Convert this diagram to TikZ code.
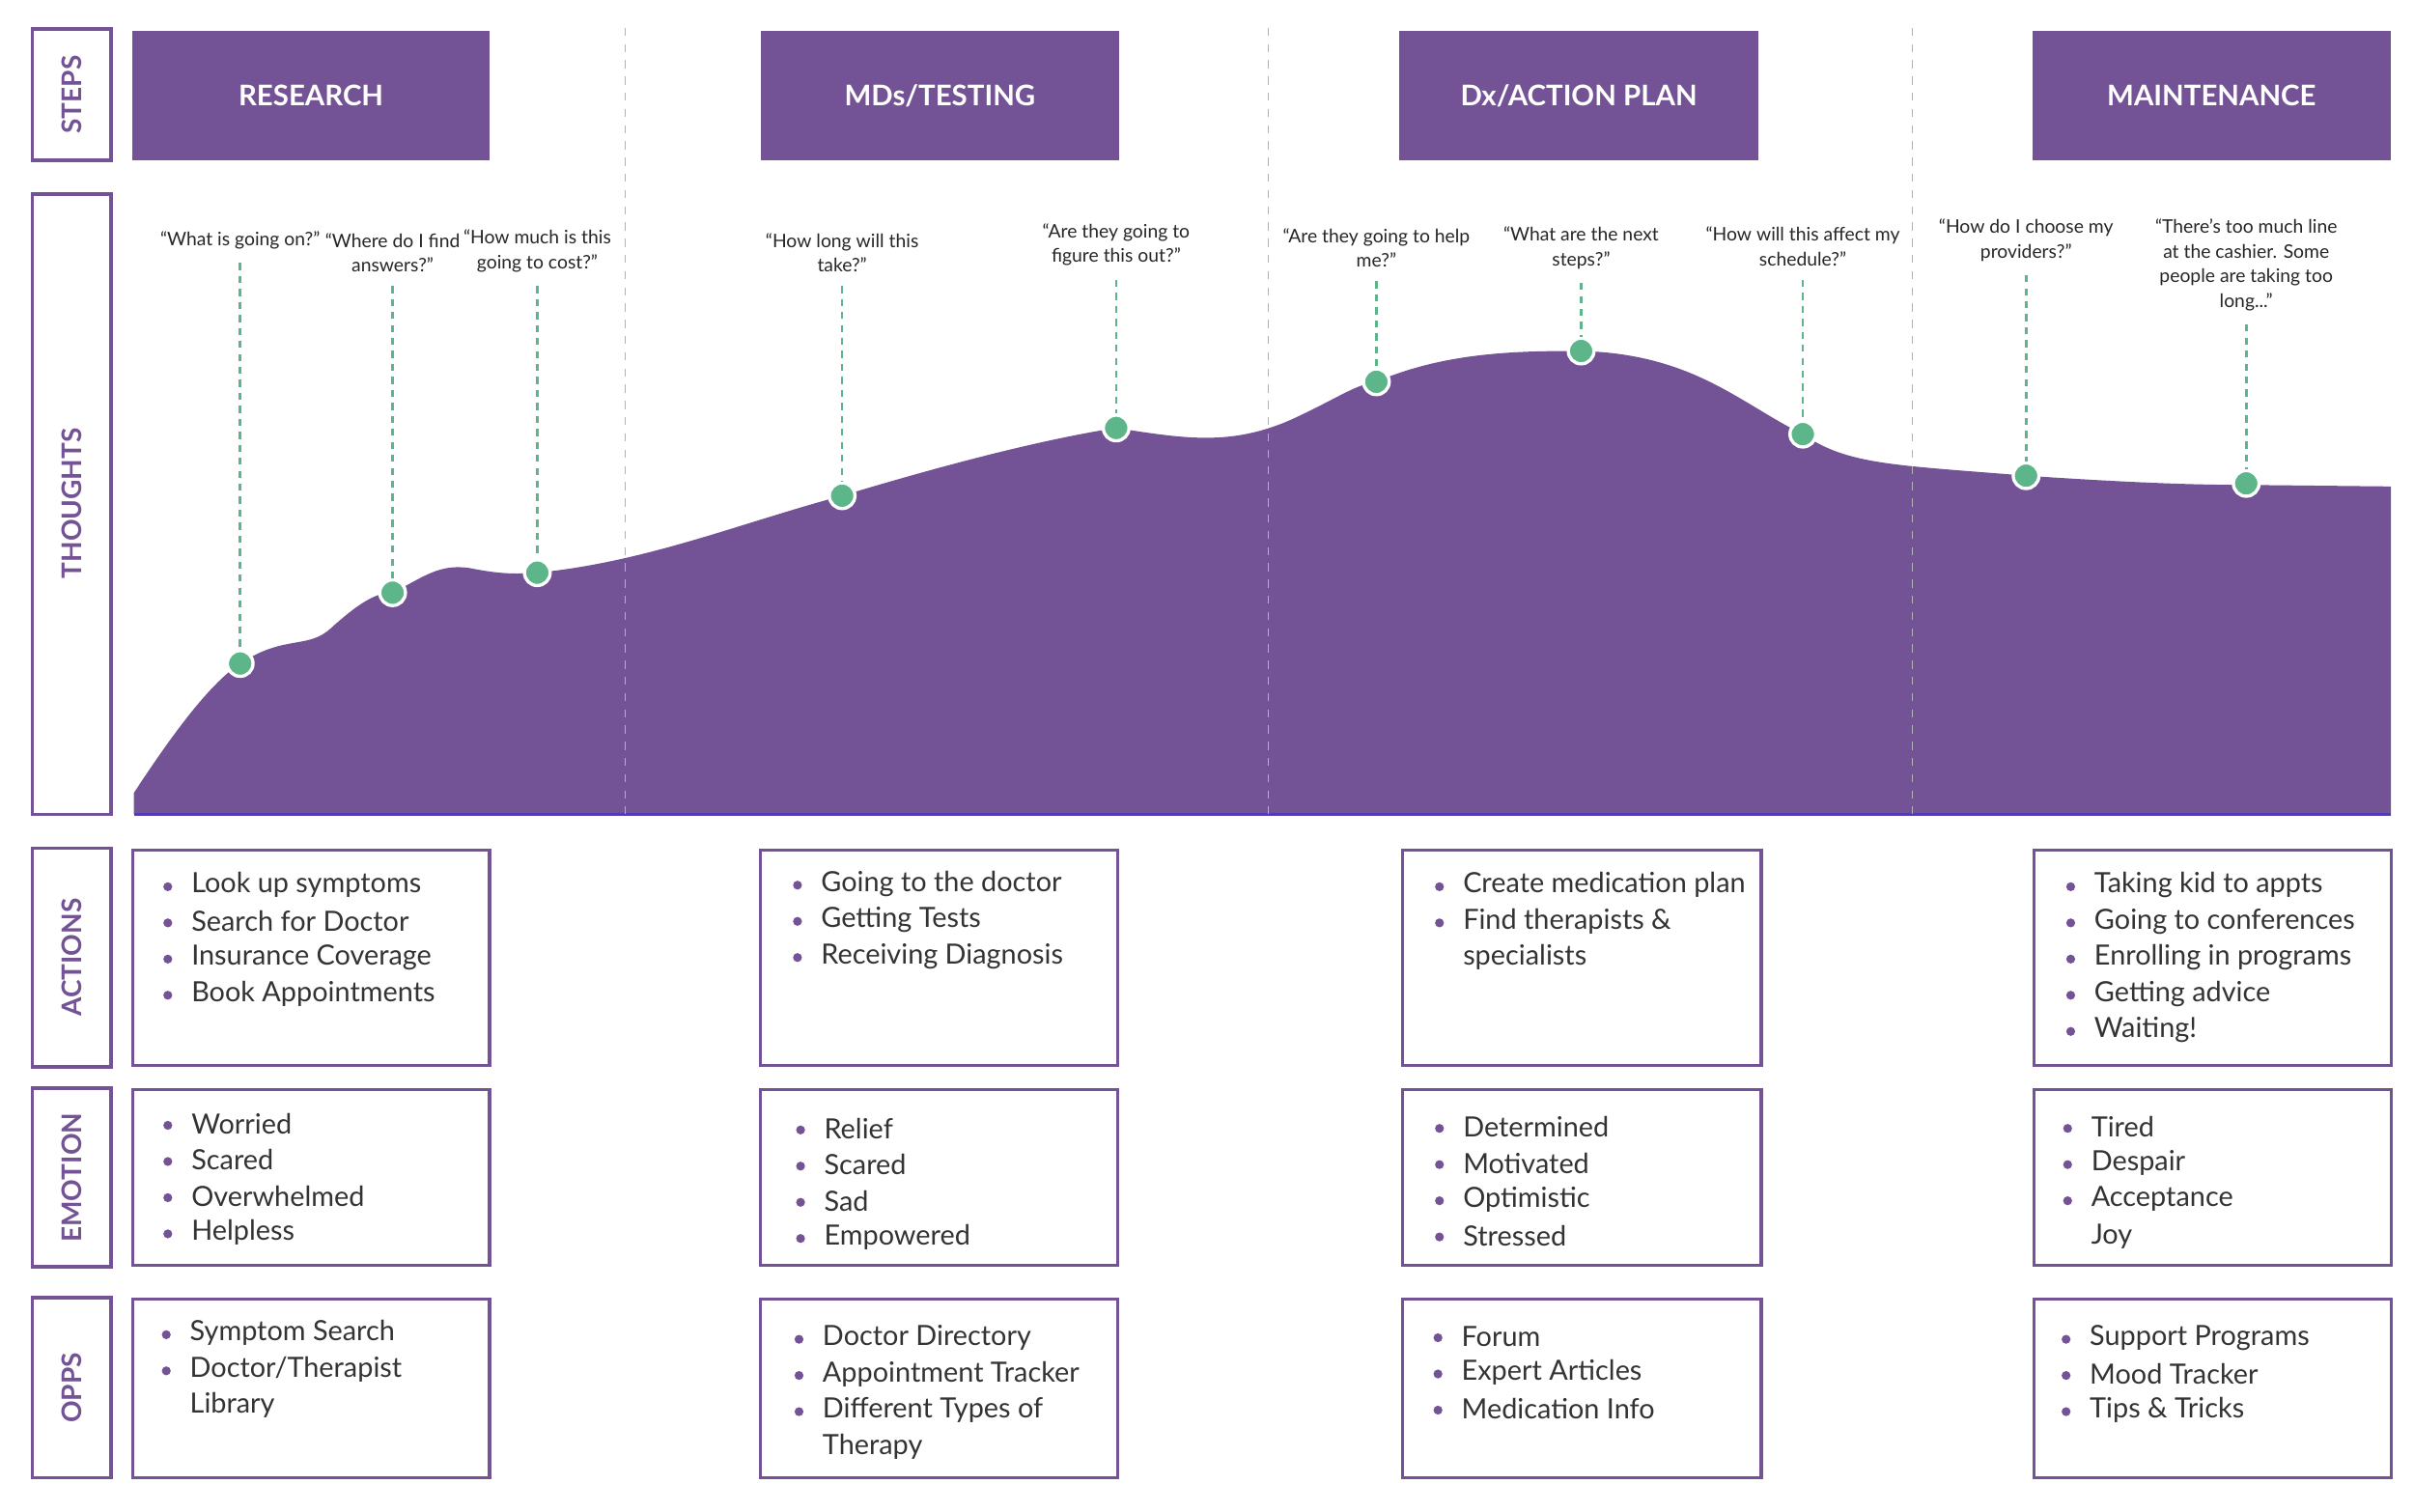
\documentclass[tikz,border=0pt]{standalone}
\usepackage{fontspec}
\setmainfont{Lato}
\begin{document}
\definecolor{pur}{HTML}{735396}
\definecolor{grn}{HTML}{5DB58A}
\begin{tikzpicture}[x=0.02cm,y=-0.02cm,
 side/.style={draw=pur,line width=1.3pt},
 sidelbl/.style={rotate=90,text=pur,font=\bfseries\fontsize{10}{12}\selectfont},
 head/.style={fill=pur},
 headlbl/.style={text=white,font=\bfseries\fontsize{10.5}{12}\selectfont},
 box/.style={draw=pur,line width=1.1pt},
 item/.style={anchor=west,inner sep=0pt,text=black!80,font=\fontsize{10.3}{12}\selectfont},
 bul/.style={circle,fill=pur,inner sep=0pt,minimum size=3.3pt},
 th/.style={align=center,inner sep=0pt,text=black!85,font=\fontsize{6.9}{9.1}\selectfont},
 dot/.style={circle,fill=grn,draw=white,line width=1.2pt,inner sep=0pt,minimum size=9.5pt},
 gline/.style={grn,dashed,line width=0.9pt,dash pattern=on 2.6pt off 2.2pt},
 vsep/.style={gray!60,line width=0.5pt,dash pattern=on 3pt off 3pt}]
\useasboundingbox (0,0) rectangle (1568,981.6);
% side labels
\draw[side] (21,19) rectangle (72,104); \node[sidelbl] (s1) at (46.5,61.5) {STEPS};
\draw[side] (21,126) rectangle (72,529); \node[sidelbl] (s2) at (46.5,327) {THOUGHTS};
\draw[side] (21,551) rectangle (72,693); \node[sidelbl] (s3) at (46.5,622) {ACTIONS};
\draw[side] (21,707) rectangle (72,823); \node[sidelbl] (s4) at (46.5,765) {EMOTION};
\draw[side] (21,843) rectangle (72,960); \node[sidelbl] (s5) at (46.5,901.5) {OPPS};
% headers
\fill[head] (86,20) rectangle (318,104); \node[headlbl] (h1) at (202,62) {RESEARCH};
\fill[head] (494,20) rectangle (727,104); \node[headlbl] (h2) at (610.5,62) {MDs/TESTING};
\fill[head] (909,20) rectangle (1142,104); \node[headlbl] (h3) at (1025.5,62) {Dx/ACTION PLAN};
\fill[head] (1320,20) rectangle (1553,104); \node[headlbl] (h4) at (1436.5,62) {MAINTENANCE};
% curve
\fill[pur] (87,529) -- (87,515) .. controls (110,480) and (135,445) .. (156,431)
 .. controls (185,412) and (200,422) .. (215,408)
 .. controls (235,390) and (245,385) .. (255,385)
 .. controls (275,375) and (285,366) .. (305,369)
 .. controls (325,373) and (335,373) .. (349,372)
 .. controls (420,365) and (480,340) .. (547,322)
 .. controls (620,300) and (680,285) .. (725,278)
 .. controls (770,285) and (800,290) .. (840,272)
 .. controls (870,258) and (880,250) .. (894,248)
 .. controls (940,228) and (990,228) .. (1027,228)
 .. controls (1100,230) and (1130,262) .. (1171,282)
 .. controls (1200,302) and (1230,302) .. (1316,309)
 .. controls (1390,314) and (1430,315) .. (1459,315)
 -- (1553,316) -- (1553,529) -- cycle;
\draw[pur!70!blue,line width=0.8pt] (87,529) -- (1553,529);
\foreach \x in {406,824,1242} \draw[vsep] (\x,18) -- (\x,529);
% thoughts
\foreach \n/\x/\y/\ty/\t in {
 1/156/431/156/{“What is going on?”},
 2/255/385/164/{“Where do I find\\answers?”},
 3/349/372/163/{“How much is this\\going to cost?”},
 4/547/322/164/{“How long will this\\take?”},
 5/725/278/159/{“Are they going to\\figure this out?”},
 6/894/248/161/{“Are they going to help\\me?”},
 7/1027/228/161/{“What are the next\\steps?”},
 8/1171/282/160/{“How will this affect my\\schedule?”},
 9/1316/309/156/{“How do I choose my\\providers?”},
 10/1459/314/172/{“There’s too much line\\at the cashier. Some\\people are taking too\\long...”}}{
 \node[th] (t\n) at (\x,\ty) {\t};
 \node[dot] (d\n) at (\x,\y) {};
 \draw[gline] ([yshift=-5pt]t\n.south) -- (d\n.north);
}
\node[th] at (146,156) {};
% boxes
\foreach \xa/\xb/\c in {86/318/1,494/726/2,911/1144/3,1321/1553/4}{
 \draw[box] (\xa,552) rectangle (\xb,692);
 \draw[box] (\xa,708) rectangle (\xb,822);
 \draw[box] (\xa,844) rectangle (\xb,960);
}
% lists: x of text, first y, items
\newcommand\mylist[4]{%
 \foreach \t [count=\i] in {#4}{
  \node[item] (#1-\i) at (#2,{#3+(\i-1)*23.5}) {\t};
  \node[bul] (#1b\i) at (#2-15,{#3+(\i-1)*23.5+1}) {};
 }}
\mylist{a1}{124}{575}{Look up symptoms,Search for Doctor,Insurance Coverage,Book Appointments}
\mylist{e1}{124}{730}{Worried,Scared,Overwhelmed,Helpless}
\mylist{o1}{123}{866}{Symptom Search,Doctor/Therapist}
\node[item] (o1x) at (123,913) {Library};
\mylist{a2}{533}{574}{Going to the doctor,Getting Tests,Receiving Diagnosis}
\mylist{e2}{535}{733}{Relief,Scared,Sad,Empowered}
\mylist{o2}{534}{869}{Doctor Directory,Appointment Tracker,Different Types of}
\node[item] (o2x) at (534,940) {Therapy};
\mylist{a3}{950}{575}{Create medication plan,Find therapists \&}
\node[item] (a3x) at (950,622) {specialists};
\mylist{e3}{950}{732}{Determined,Motivated,Optimistic,Stressed}
\mylist{o3}{949}{868}{Forum,Expert Articles,Medication Info}
\mylist{a4}{1360}{575}{Taking kid to appts,Going to conferences,Enrolling in programs,Getting advice,Waiting!}
\mylist{e4}{1358}{732}{Tired,Despair,Acceptance}
\node[item] (e4x) at (1358,803) {Joy};
\mylist{o4}{1357}{869}{Support Programs,Mood Tracker,Tips \& Tricks}
\end{tikzpicture}
\end{document}
